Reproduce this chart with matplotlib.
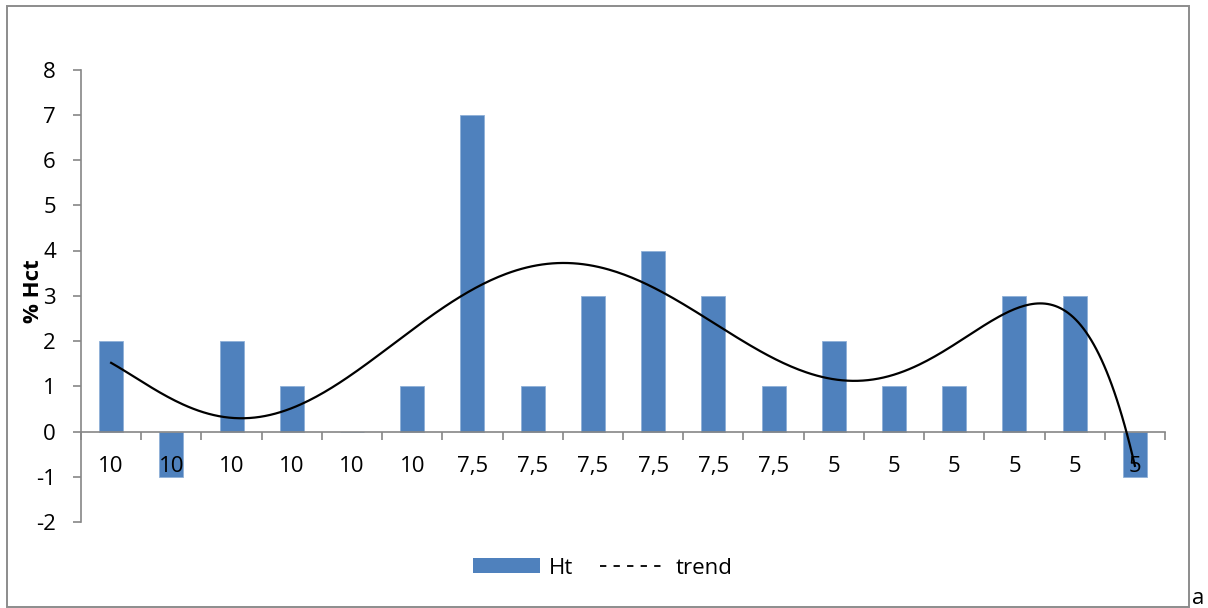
import numpy as np
import matplotlib.pyplot as plt
from matplotlib.patches import Patch, Rectangle
from matplotlib.lines import Line2D

plt.rcParams['font.family'] = ['Open Sans', 'DejaVu Sans']
plt.rcParams['axes.unicode_minus'] = False

# dose groups along the category axis and the change in haematocrit per sample
dose_labels = ['10', '10', '10', '10', '10', '10',
               '7,5', '7,5', '7,5', '7,5', '7,5', '7,5',
               '5', '5', '5', '5', '5', '5']
ht_change = [2, -1, 2, 1, 0, 1, 7, 1, 3, 4, 3, 1, 2, 1, 1, 3, 3, -1]
trend_degree = 6

bar_color = '#4F81BD'
axis_color = '#868686'
fs = 16

fig = plt.figure(figsize=(12.08, 6.08), dpi=100)
ax = fig.add_axes([81 / 1208, 86 / 608, 1084 / 1208, 452.5 / 608])
ax.set_axisbelow(False)

pos = np.arange(1, len(ht_change) + 1)
ax.bar(pos, ht_change, width=0.4, color=bar_color, edgecolor='#8fb0d8', linewidth=0.6, zorder=1)

# polynomial trend line fitted to the bars, like a spreadsheet trendline
coef = np.polyfit(pos, ht_change, trend_degree)
xs = np.linspace(pos[0], pos[-1], 400)
ax.plot(xs, np.polyval(coef, xs), color='black', lw=1.6, zorder=3)

ax.set_xlim(0.5, len(ht_change) + 0.5)
ax.set_ylim(-2, 8)
ax.set_yticks(range(-2, 9))

for side in ['top', 'right']:
    ax.spines[side].set_visible(False)
ax.spines['left'].set_color(axis_color)
ax.spines['bottom'].set_color(axis_color)
ax.spines['bottom'].set_position(('data', 0))
ax.spines['left'].set_linewidth(1.2)
ax.spines['bottom'].set_linewidth(1.2)

ax.set_xticks(np.arange(0.5, len(ht_change) + 1, 1))
ax.set_xticks(pos, minor=True)
ax.set_xticklabels(dose_labels, minor=True)
ax.tick_params(axis='x', which='major', length=6, width=1.2, color=axis_color, labelbottom=False)
ax.tick_params(axis='x', which='minor', length=0, pad=17.5, labelsize=fs)
ax.tick_params(axis='y', length=6, width=1.2, color=axis_color, labelsize=fs, pad=12)

ax.set_ylabel('% Hct', fontsize=fs, fontweight='bold')
ax.yaxis.set_label_coords(-0.034, 0.51)

handles = [Patch(facecolor=bar_color),
           Line2D([], [], color='black', lw=1.3, linestyle=(0, (3.5, 4)))]
fig.legend(handles, ['Ht', 'trend'], loc='center', bbox_to_anchor=(603 / 1208, 1 - 568 / 608),
           ncol=2, frameon=False, fontsize=fs, handlelength=3.0, handleheight=0.68,
           handletextpad=0.42, columnspacing=1.2)

fig.add_artist(Rectangle((7 / 1208, 1.5 / 608), 1182 / 1208, 600.5 / 608,
                         transform=fig.transFigure, fill=False, edgecolor='#8c8c8c', lw=1.4))
fig.text(1192 / 1208, 4 / 608, 'a', fontsize=fs, va='baseline')

fig.savefig('out.png', dpi=100)
